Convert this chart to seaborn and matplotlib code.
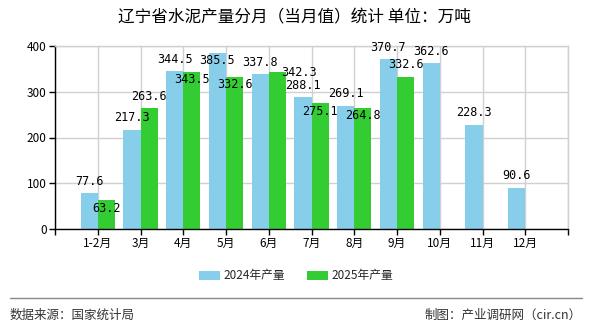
import numpy as np
import pandas as pd
import matplotlib
matplotlib.use("Agg")
import matplotlib.pyplot as plt
from matplotlib.lines import Line2D
from matplotlib.patches import Patch
import seaborn as sns

# ---- data ----
months = ["1-2月", "3月", "4月", "5月", "6月", "7月", "8月", "9月", "10月", "11月", "12月"]
prod_2024 = [77.6, 217.3, 344.5, 385.5, 337.8, 288.1, 269.1, 370.7, 362.6, 228.3, 90.6]
prod_2025 = [63.2, 263.6, 343.5, 332.6, 342.3, 275.1, 264.8, 332.6, None, None, None]
series_names = ["2024年产量", "2025年产量"]
title_text = "辽宁省水泥产量分月（当月值）统计 单位：万吨"
source_text = "数据来源：国家统计局"
maker_text = "制图：产业调研网（cir.cn）"

# ---- style ----
colors = ["#87CEEB", "#33CC33"]
# label offsets in pixels (dx, dy) per series, default above the bar
label_adjust = {
    (0, 3): (0, -8),
    (1, 0): (0, -8),
    (1, 2): (0, -8),
    (1, 3): (0, -8),
    (1, 4): (22, 0),
    (1, 5): (0, -8),
    (1, 6): (0, -8),
}

sns.set_theme(style="white")
plt.rcParams["font.family"] = ["Noto Sans CJK SC", "DejaVu Sans"]

rows = []
for m, a, b in zip(months, prod_2024, prod_2025):
    rows.append({"month": m, "series": series_names[0], "value": a})
    rows.append({"month": m, "series": series_names[1], "value": np.nan if b is None else b})
df = pd.DataFrame(rows)

dpi = 100
fig = plt.figure(figsize=(5.9, 3.3), dpi=dpi)
ax = fig.add_axes([55 / 590, 1 - 229 / 330, 513 / 590, 183 / 330])

sns.barplot(data=df, x="month", y="value", hue="series", order=months,
            hue_order=series_names, palette=colors, width=0.8, ax=ax,
            saturation=1, legend=False, errorbar=None, linewidth=0,
            edgecolor="none")

ax.set_xlim(-1, len(months))
ax.set_ylim(0, 400)
ax.set_yticks([0, 100, 200, 300, 400])
ax.set_yticklabels(["0", "100", "200", "300", "400"], fontsize=8.5, color="#000")
ticks = list(range(-1, len(months) + 1))
ax.set_xticks(ticks)
ax.set_xticklabels([""] + months + [""], fontsize=8.5, color="#000")
ax.set_xlabel("")
ax.set_ylabel("")
ax.grid(True, color="#d0d0d0", linewidth=1)
ax.set_axisbelow(True)
for s in ["top", "right"]:
    ax.spines[s].set_color("#d0d0d0")
    ax.spines[s].set_linewidth(1)
for s in ["left", "bottom"]:
    ax.spines[s].set_color("#000")
    ax.spines[s].set_linewidth(1)
ax.tick_params(axis="both", which="major", length=4, width=1, color="#000",
               direction="out", bottom=True, left=True, pad=2)

pt = 72 / dpi
for si, cont in enumerate(ax.containers):
    for bi, bar in enumerate(cont):
        h = bar.get_height()
        if h is None or np.isnan(h):
            continue
        dx, dy = label_adjust.get((si, bi), (0, 12))
        ax.annotate(f"{h:.1f}", (bar.get_x() + bar.get_width() / 2, h),
                    xytext=(dx * pt, dy * pt), textcoords="offset points",
                    ha="center", va="center", fontsize=8.5, color="#000",
                    family=["DejaVu Sans Mono"])

fig.text(294 / 590, 1 - 18 / 330, title_text, ha="center", va="center",
         fontsize=12, color="#000")

handles = [Patch(facecolor=c, edgecolor="none") for c in colors]
fig.legend(handles, series_names, loc="center", bbox_to_anchor=(296 / 590, 1 - 276 / 330),
           ncol=2, frameon=False, fontsize=8.5, handlelength=1.8, handleheight=0.7,
           columnspacing=1.8, handletextpad=0.3)

fig.add_artist(Line2D([10 / 590, 582 / 590], [1 - 298 / 330, 1 - 298 / 330],
                      color="#888888", linewidth=1))
fig.text(10 / 590, 1 - 315 / 330, source_text, ha="left", va="center",
         fontsize=9, color="#333")
fig.text(582 / 590, 1 - 315 / 330, maker_text, ha="right", va="center",
         fontsize=9, color="#333")

fig.savefig("out.png", dpi=dpi)
